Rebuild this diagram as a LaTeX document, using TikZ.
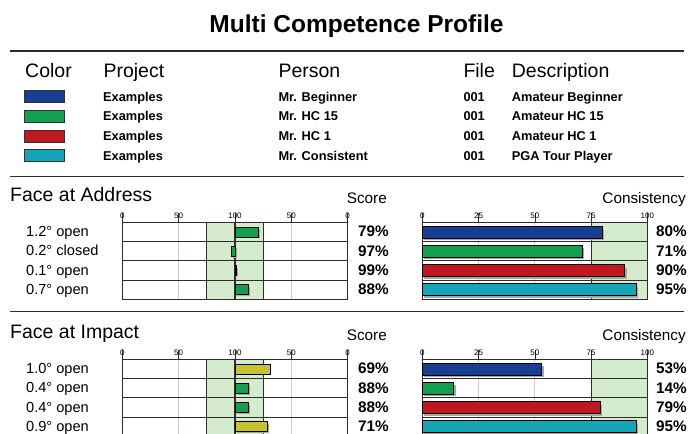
\documentclass[tikz,border=0pt]{standalone}
\usepackage{fontspec}
\setmainfont{Liberation Sans}
\definecolor{cblue}{RGB}{24,62,148}
\definecolor{cgreen}{RGB}{18,160,78}
\definecolor{cred}{RGB}{192,24,30}
\definecolor{ccyan}{RGB}{20,166,182}
\definecolor{colive}{RGB}{200,194,48}
\definecolor{bandgreen}{RGB}{213,235,206}
\definecolor{gridpink}{RGB}{218,200,200}
\definecolor{darkline}{RGB}{45,45,45}
\newcommand\fs[1]{\fontsize{#1}{#1}\selectfont}
\tikzset{
  rulestyle/.style={line width=1.5pt, draw=darkline},
  framestyle/.style={line width=1.1pt, draw=darkline},
  gridstyle/.style={line width=1pt, draw=gridpink},
  tickstyle/.style={line width=0.6pt, draw=darkline},
  barstyle/.style={draw=black, line width=0.8pt},
  shadowstyle/.style={fill=black!35},
  ticklab/.style={font=\fs{8}, anchor=base, inner sep=0pt},
  txt/.style={inner sep=0pt},
}
% #1 yshift, #2 name, #3 title, #4 list label/dev/pct/barcolor/cons/conscolor
\newcommand\drawsec[4]{%
\begin{scope}[yshift=-#1pt]
  \node[txt,anchor=base west,font=\fs{19.5}] (title-#2) at (10,201) {#3};
  \node[txt,anchor=base east,font=\fs{15.3}] (score-#2) at (387,203) {Score};
  \node[txt,anchor=base east,font=\fs{15.3}] (cons-#2) at (686,203) {Consistency};
  % score chart background
  \fill[bandgreen] (206.8,222.3) rectangle (263.2,299.5);
  \draw[gridstyle] (178.65,222.3) -- (178.65,299.5) (291.35,222.3) -- (291.35,299.5);
  \draw[framestyle] (122.3,222.3) -- (122.3,299.5) (347.7,222.3) -- (347.7,299.5)
     (206.8,222.3) -- (206.8,299.5) (263.2,222.3) -- (263.2,299.5) (235,222.3) -- (235,299.5);
  \foreach \k in {0,...,4} \draw[framestyle] (122.3,{222.3+19.3*\k}) -- (347.7,{222.3+19.3*\k});
  \foreach \x/\t in {122.3/0,178.65/50,235/100,291.35/50,347.7/0} {
    \draw[tickstyle] (\x,212.5) -- (\x,222.3);
    \node[ticklab] at (\x,218) {\t};
  }
  % consistency chart background
  \fill[bandgreen] (591.05,222.3) rectangle (647.3,299.5);
  \draw[gridstyle] (478.55,222.3) -- (478.55,299.5) (534.8,222.3) -- (534.8,299.5);
  \draw[framestyle] (422.3,222.3) -- (422.3,299.5) (647.3,222.3) -- (647.3,299.5)
     (591.05,222.3) -- (591.05,299.5);
  \foreach \k in {0,...,4} \draw[framestyle] (422.3,{222.3+19.3*\k}) -- (647.3,{222.3+19.3*\k});
  \foreach \x/\t in {422.3/0,478.55/25,534.8/50,591.05/75,647.3/100} {
    \draw[tickstyle] (\x,212.5) -- (\x,222.3);
    \node[ticklab] at (\x,218) {\t};
  }
  % rows
  \foreach \lab/\dev/\pct/\bc/\cv/\cc [count=\i from 0] in {#4} {
    \pgfmathsetmacro\cy{231.95+19.3*\i}
    \node[txt,anchor=base west,font=\fs{14.6}] (lab-#2-\i) at (26,\cy+4.6) {\lab};
    \fill[shadowstyle] (237,\cy-3) rectangle ({235+1.127*\dev+1.5},\cy+6.5);
    \filldraw[barstyle,fill=\bc] (235,\cy-5) rectangle ({235+1.127*\dev},\cy+5);
    \node[txt,anchor=base east,font=\bfseries\fs{15.3}] (pct-#2-\i) at (389,\cy+4.8) {\pct\%};
    \fill[shadowstyle] (424,\cy-3) rectangle ({422.3+2.25*\cv+2},\cy+8);
    \filldraw[barstyle,fill=\cc] (422.3,\cy-6) rectangle ({422.3+2.25*\cv},\cy+6);
    \node[txt,anchor=base east,font=\bfseries\fs{15.3}] (cv-#2-\i) at (687,\cy+4.8) {\cv\%};
  }
\end{scope}}
\begin{document}
\begin{tikzpicture}[x=1pt,y=-1pt]
\useasboundingbox (0,0) rectangle (689,434);
\fill[white] (0,0) rectangle (689,434);
\node[txt,anchor=base,font=\bfseries\fs{24.5}] (maintitle) at (356.5,32.5) {Multi Competence Profile};
\draw[rulestyle] (10,51) -- (684,51);
\draw[rulestyle,line width=1.1pt] (10,176.7) -- (684,176.7);
\draw[rulestyle,line width=1.1pt] (10,311.7) -- (684,311.7);
% header
\foreach \x/\t/\n in {25/Color/hc,103.3/Project/hp,278.3/Person/hpe,463.3/File/hf,511.7/Description/hd}
  \node[txt,anchor=base west,font=\fs{19.5}] (\n) at (\x,77.3) {\t};
% legend rows
\foreach \colr/\proj/\pers/\filn/\desc [count=\i from 0] in {cblue/Examples/Mr. Beginner/001/Amateur Beginner,
  cgreen/Examples/Mr. HC 15/001/Amateur HC 15, cred/Examples/Mr. HC 1/001/Amateur HC 1,
  ccyan/Examples/Mr. Consistent/001/PGA Tour Player} {
  \pgfmathsetmacro\ry{96.7+19.6*\i}
  \filldraw[draw=black!80,line width=0.8pt,fill=\colr] (24,\ry-6) rectangle (64.3,\ry+6);
  \node[txt,anchor=base west,font=\bfseries\fs{12.8}] (pr-\i) at (103,\ry+4.6) {\proj};
  \node[txt,anchor=base west,font=\bfseries\fs{12.8}] (pe-\i) at (278.3,\ry+4.6) {\pers};
  \node[txt,anchor=base west,font=\bfseries\fs{12.8}] (fi-\i) at (463.3,\ry+4.6) {\filn};
  \node[txt,anchor=base west,font=\bfseries\fs{12.8}] (de-\i) at (511.7,\ry+4.6) {\desc};
}
\drawsec{0}{a}{Face at Address}{1.2° open/21/79/cgreen/80/cblue, 0.2° closed/-3/97/cgreen/71/cgreen,
  0.1° open/1/99/cgreen/90/cred, 0.7° open/12/88/cgreen/95/ccyan}
\drawsec{137}{b}{Face at Impact}{1.0° open/31/69/colive/53/cblue, 0.4° open/12/88/cgreen/14/cgreen,
  0.4° open/12/88/cgreen/79/cred, 0.9° open/29/71/colive/95/ccyan}
\end{tikzpicture}
\end{document}
